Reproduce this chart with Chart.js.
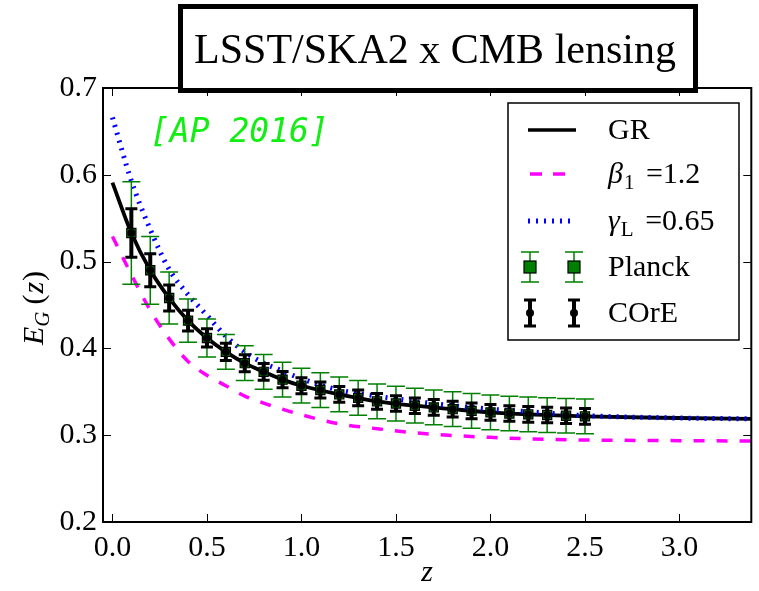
<!DOCTYPE html>
<html>
<head>
<meta charset="utf-8">
<script src="https://cdn.jsdelivr.net/npm/chart.js@4.4.1/dist/chart.umd.min.js"></script>
<style>
  html, body { margin: 0; padding: 0; background: #fff; }
  canvas { display: block; }
</style>
</head>
<body>
<canvas id="myChart" width="759" height="591"></canvas>
<script>
// Theory curves, sampled in z
const zLine = [0, 0.1, 0.2, 0.3, 0.4, 0.5, 0.6, 0.7, 0.8, 0.9, 1.0, 1.2, 1.4, 1.6, 1.8, 2.0, 2.2, 2.5, 3.0, 3.4];
const grLine = [0.591, 0.533, 0.490, 0.458, 0.432, 0.412, 0.396, 0.383, 0.373, 0.364, 0.357, 0.347, 0.339, 0.334, 0.330, 0.3263, 0.324, 0.3217, 0.3198, 0.3187];
const betaLine = [0.529, 0.485, 0.444, 0.411, 0.385, 0.369, 0.357, 0.345, 0.337, 0.330, 0.3235, 0.313, 0.3075, 0.3028, 0.2997, 0.2975, 0.2958, 0.2945, 0.2937, 0.2933];
const gammaLine = [0.666, 0.593, 0.537, 0.491, 0.462, 0.438, 0.414, 0.396, 0.383, 0.374, 0.365, 0.352, 0.345, 0.339, 0.334, 0.330, 0.327, 0.3225, 0.3198, 0.3187];

// Forecast points (Planck / COrE share the same centres)
const zPts = [0.1, 0.2, 0.3, 0.4, 0.5, 0.6, 0.7, 0.8, 0.9, 1.0, 1.1, 1.2, 1.3, 1.4, 1.5, 1.6, 1.7, 1.8, 1.9, 2.0, 2.1, 2.2, 2.3, 2.4, 2.5];
const ePts = [0.533, 0.490, 0.458, 0.432, 0.412, 0.396, 0.383, 0.373, 0.364, 0.357, 0.352, 0.347, 0.343, 0.339, 0.3365, 0.334, 0.332, 0.330, 0.328, 0.3263, 0.325, 0.324, 0.3232, 0.3224, 0.3217];
const planckErr = [0.059, 0.039, 0.030, 0.025, 0.022, 0.020, 0.020, 0.020, 0.020, 0.020, 0.020, 0.020, 0.020, 0.020, 0.020, 0.020, 0.020, 0.020, 0.020, 0.020, 0.020, 0.020, 0.020, 0.020, 0.020];
const coreErr = [0.028, 0.019, 0.015, 0.012, 0.0105, 0.010, 0.0098, 0.0096, 0.0094, 0.0093, 0.0092, 0.0091, 0.009, 0.009, 0.009, 0.009, 0.009, 0.009, 0.009, 0.009, 0.009, 0.009, 0.009, 0.009, 0.009];

// Axis ticks and texts
const xTicks = [0, 0.5, 1.0, 1.5, 2.0, 2.5, 3.0];
const yTicks = [0.2, 0.3, 0.4, 0.5, 0.6, 0.7];
const chartTitle = 'LSST/SKA2 x CMB lensing';
const tagText = '[AP 2016]';
// legend labels: [main, subscript, rest]
const legendLabels = [['GR'], ['β', '1', ' =1.2'], ['γ', 'L', ' =0.65'], ['Planck'], ['COrE']];

const SERIF = '"Liberation Serif", "Times New Roman", serif';
const FS = 30;
const ctx = document.getElementById('myChart').getContext('2d');

function toXY(xs, ys) {
    return xs.map((x, i) => ({ x: x, y: ys[i] }));
}

// error bars with caps
function drawErrorBars(c, xs, ys, errs, color, lw, capHalf, capLw, sx, sy) {
    c.save();
    c.strokeStyle = color;
    for (let i = 0; i < xs.length; i++) {
        const px = sx.getPixelForValue(xs[i]);
        const top = sy.getPixelForValue(ys[i] + errs[i]);
        const bot = sy.getPixelForValue(ys[i] - errs[i]);
        c.lineWidth = lw;
        c.beginPath();
        c.moveTo(px, top);
        c.lineTo(px, bot);
        c.stroke();
        c.lineWidth = capLw;
        c.beginPath();
        c.moveTo(px - capHalf, top);
        c.lineTo(px + capHalf, top);
        c.moveTo(px - capHalf, bot);
        c.lineTo(px + capHalf, bot);
        c.stroke();
    }
    c.restore();
}

// text with an optional subscript
function drawMathLabel(c, parts, x, y, size) {
    c.textAlign = 'left';
    c.textBaseline = 'alphabetic';
    if (parts.length === 1) {
        c.font = size + 'px ' + SERIF;
        c.fillText(parts[0], x, y);
        return;
    }
    c.font = 'italic ' + size + 'px ' + SERIF;
    c.fillText(parts[0], x, y);
    x += c.measureText(parts[0]).width + 1;
    c.font = Math.round(size * 0.7) + 'px ' + SERIF;
    c.fillText(parts[1], x, y + 6);
    x += c.measureText(parts[1]).width + 4;
    c.font = size + 'px ' + SERIF;
    c.fillText(parts[2], x, y);
}

const extras = {
    id: 'extras',
    beforeDatasetDraw(chart, args) {
        // error bars go just under the Planck squares
        if (args.index !== 3) return;
        const c = chart.ctx;
        c.save();
        const a = chart.chartArea;
        c.beginPath();
        c.rect(a.left, a.top, a.right - a.left, a.bottom - a.top);
        c.clip();
        drawErrorBars(c, zPts, ePts, planckErr, '#008000', 1.5, 9, 1.5, chart.scales.x, chart.scales.y);
        drawErrorBars(c, zPts, ePts, coreErr, '#000', 4, 6, 3, chart.scales.x, chart.scales.y);
        c.restore();
    },
    afterDraw(chart) {
        const c = chart.ctx;
        const a = chart.chartArea;
        const sx = chart.scales.x, sy = chart.scales.y;
        c.save();

        // frame and inward ticks on all four sides
        c.strokeStyle = '#000';
        c.lineWidth = 1;
        c.beginPath();
        xTicks.forEach(v => {
            const px = Math.round(sx.getPixelForValue(v)) + 0.5;
            c.moveTo(px, a.bottom); c.lineTo(px, a.bottom - 8);
            c.moveTo(px, a.top); c.lineTo(px, a.top + 8);
        });
        yTicks.forEach(v => {
            const py = Math.round(sy.getPixelForValue(v)) + 0.5;
            c.moveTo(a.left, py); c.lineTo(a.left + 8, py);
            c.moveTo(a.right, py); c.lineTo(a.right - 8, py);
        });
        c.stroke();
        c.lineWidth = 2;
        c.strokeRect(a.left, a.top, a.right - a.left, a.bottom - a.top);

        // tag
        c.fillStyle = '#11ee11';
        c.font = 'italic 33px "DejaVu Sans Mono", monospace';
        c.textAlign = 'left';
        c.textBaseline = 'alphabetic';
        c.fillText(tagText, 150, 142);

        // legend
        const lx = 508, ly = 103, lw = 231, lh = 237;
        c.fillStyle = '#fff';
        c.fillRect(lx, ly, lw, lh);
        c.strokeStyle = '#000';
        c.lineWidth = 1.5;
        c.strokeRect(lx, ly, lw, lh);
        const rows = [130, 174, 221, 267, 313];
        const hx0 = 528, hx1 = 576;
        c.lineCap = 'butt';
        // GR
        c.lineWidth = 3.5; c.strokeStyle = '#000'; c.setLineDash([]);
        c.beginPath(); c.moveTo(hx0, rows[0]); c.lineTo(hx1, rows[0]); c.stroke();
        // beta
        c.strokeStyle = '#ff00ff'; c.setLineDash([12, 11]); c.lineDashOffset = -2;
        c.beginPath(); c.moveTo(hx0, rows[1]); c.lineTo(hx1, rows[1]); c.stroke();
        // gamma
        c.strokeStyle = '#0000ff'; c.lineWidth = 5; c.setLineDash([2, 6]); c.lineDashOffset = 0;
        c.beginPath(); c.moveTo(hx0, rows[2]); c.lineTo(hx1, rows[2]); c.stroke();
        c.setLineDash([]);
        // Planck and COrE markers
        [530, 574].forEach(mx => {
            c.strokeStyle = '#008000'; c.lineWidth = 1.5;
            c.beginPath();
            c.moveTo(mx, rows[3] - 15); c.lineTo(mx, rows[3] + 15);
            c.moveTo(mx - 9, rows[3] - 15); c.lineTo(mx + 9, rows[3] - 15);
            c.moveTo(mx - 9, rows[3] + 15); c.lineTo(mx + 9, rows[3] + 15);
            c.stroke();
            c.fillStyle = '#008000';
            c.fillRect(mx - 6, rows[3] - 6, 12, 12);
            c.strokeStyle = '#000'; c.lineWidth = 1.2;
            c.strokeRect(mx - 6, rows[3] - 6, 12, 12);

            c.lineWidth = 4;
            c.beginPath();
            c.moveTo(mx, rows[4] - 13); c.lineTo(mx, rows[4] + 13);
            c.stroke();
            c.lineWidth = 3;
            c.beginPath();
            c.moveTo(mx - 6, rows[4] - 13); c.lineTo(mx + 6, rows[4] - 13);
            c.moveTo(mx - 6, rows[4] + 13); c.lineTo(mx + 6, rows[4] + 13);
            c.stroke();
            c.fillStyle = '#000';
            c.beginPath(); c.arc(mx, rows[4], 4, 0, Math.PI * 2); c.fill();
        });
        c.fillStyle = '#000';
        legendLabels.forEach((parts, i) => drawMathLabel(c, parts, 608, rows[i] + 9, FS));

        // y axis label E_G (z)
        c.save();
        c.translate(43, 308);
        c.rotate(-Math.PI / 2);
        c.font = 'italic ' + FS + 'px ' + SERIF;
        const wE = c.measureText('E').width;
        c.font = 'italic 21px ' + SERIF;
        const wG = c.measureText('G').width;
        c.font = FS + 'px ' + SERIF;
        const wP = c.measureText('(').width;
        c.font = 'italic ' + FS + 'px ' + SERIF;
        const wZ = c.measureText('z').width;
        const total = wE + wG + 7 + wP * 2 + wZ + 2;
        let tx = -total / 2;
        c.textAlign = 'left';
        c.textBaseline = 'alphabetic';
        c.font = 'italic ' + FS + 'px ' + SERIF;
        c.fillText('E', tx, 0); tx += wE;
        c.font = 'italic 21px ' + SERIF;
        c.fillText('G', tx, 6); tx += wG + 7;
        c.font = FS + 'px ' + SERIF;
        c.fillText('(', tx, 0); tx += wP;
        c.font = 'italic ' + FS + 'px ' + SERIF;
        c.fillText('z', tx + 1, 0); tx += wZ + 2;
        c.font = FS + 'px ' + SERIF;
        c.fillText(')', tx, 0);
        c.restore();

        // boxed title on top of the frame
        c.fillStyle = '#fff';
        c.fillRect(180, 6, 516, 85);
        c.strokeStyle = '#000';
        c.lineWidth = 5;
        c.strokeRect(180.5, 6.5, 515, 84);
        c.fillStyle = '#000';
        c.font = '42px ' + SERIF;
        c.textAlign = 'center';
        c.fillText(chartTitle, 435, 63);

        c.restore();
    }
};

const chart = new Chart(ctx, {
    type: 'scatter',
    data: {
        datasets: [
            {
                label: 'GR', data: toXY(zLine, grLine), showLine: true,
                borderColor: '#000', borderWidth: 3.8, pointRadius: 0,
                cubicInterpolationMode: 'monotone', order: 6
            },
            {
                label: 'beta', data: toXY(zLine, betaLine), showLine: true,
                borderColor: '#ff00ff', borderWidth: 3.5, borderDash: [11, 12], pointRadius: 0,
                cubicInterpolationMode: 'monotone', order: 5
            },
            {
                label: 'gamma', data: toXY(zLine, gammaLine), showLine: true,
                borderColor: '#0000ff', borderWidth: 5, borderDash: [2, 6], pointRadius: 0,
                cubicInterpolationMode: 'monotone', order: 4
            },
            {
                label: 'Planck', data: toXY(zPts, ePts),
                pointStyle: 'rect', pointRadius: 6.5, backgroundColor: '#008000',
                borderColor: '#000', borderWidth: 1.2, order: 2
            },
            {
                label: 'COrE', data: toXY(zPts, ePts),
                pointStyle: 'circle', pointRadius: 4, backgroundColor: '#000',
                borderColor: '#000', borderWidth: 0, order: 1
            }
        ]
    },
    options: {
        responsive: false,
        animation: false,
        devicePixelRatio: 1,
        layout: { padding: { top: 88, right: 5, left: 0, bottom: 0 } },
        plugins: { legend: { display: false }, tooltip: { enabled: false } },
        scales: {
            x: {
                type: 'linear', min: -0.05, max: 3.38,
                grid: { display: false, drawTicks: false },
                border: { display: false },
                afterBuildTicks: s => { s.ticks = xTicks.map(v => ({ value: v })); },
                afterFit: s => { s.height = 69; },
                ticks: {
                    color: '#000', padding: 8,
                    font: { family: SERIF, size: FS },
                    callback: v => v.toFixed(1)
                },
                title: {
                    display: true, text: 'z', color: '#000',
                    font: { family: SERIF, size: FS, style: 'italic' },
                    padding: { top: 0, bottom: 0 }
                }
            },
            y: {
                type: 'linear', min: 0.2, max: 0.7,
                grid: { display: false, drawTicks: false },
                border: { display: false },
                afterBuildTicks: s => { s.ticks = yTicks.map(v => ({ value: v })); },
                afterFit: s => { s.width = 103; },
                ticks: {
                    color: '#000', padding: 6,
                    font: { family: SERIF, size: FS },
                    callback: v => v.toFixed(1)
                }
            }
        }
    },
    plugins: [extras]
});
</script>
</body>
</html>
